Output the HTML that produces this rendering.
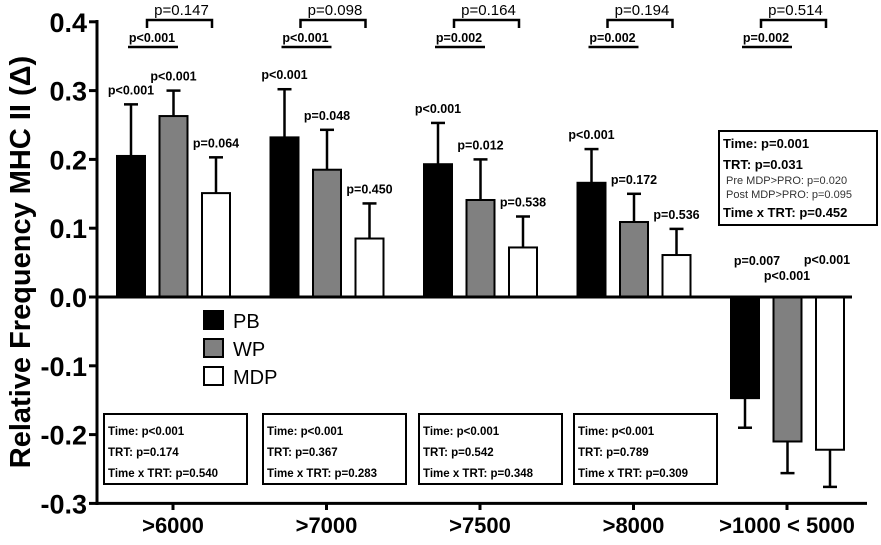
<!DOCTYPE html>
<html><head><meta charset="utf-8"><style>
body{margin:0;background:#fff;}
svg{display:block;font-family:"Liberation Sans",Arial,sans-serif;}
</style></head><body>
<svg id="c" width="881" height="545" viewBox="0 0 881 545"></svg>
<script>
const categories=[">6000",">7000",">7500",">8000",">1000 < 5000"];
const seriesNames=["PB","WP","MDP"];
const pbValues=[0.205,0.232,0.193,0.166,-0.147];
const wpValues=[0.263,0.185,0.141,0.109,-0.210];
const mdpValues=[0.151,0.085,0.072,0.061,-0.222];
const pbErr=[0.075,0.070,0.060,0.049,0.043];
const wpErr=[0.037,0.058,0.059,0.041,0.046];
const mdpErr=[0.052,0.051,0.045,0.038,0.054];
const pbP=["p<0.001","p<0.001","p<0.001","p<0.001","p=0.007"];
const wpP=["p<0.001","p=0.048","p=0.012","p=0.172","p<0.001"];
const mdpP=["p=0.064","p=0.450","p=0.538","p=0.536","p<0.001"];
const bracketP=["p=0.147","p=0.098","p=0.164","p=0.194","p=0.514"];
const underP=["p<0.001","p<0.001","p=0.002","p=0.002","p=0.002"];
const yTicks=[0.4,0.3,0.2,0.1,0.0,-0.1,-0.2,-0.3];
const yTickLabels=["0.4","0.3","0.2","0.1","0.0","-0.1","-0.2","-0.3"];
const boxTime=["Time: p<0.001","Time: p<0.001","Time: p<0.001","Time: p<0.001"];
const boxTrt=["TRT: p=0.174","TRT: p=0.367","TRT: p=0.542","TRT: p=0.789"];
const boxInt=["Time x TRT: p=0.540","Time x TRT: p=0.283","Time x TRT: p=0.348","Time x TRT: p=0.309"];

const svg=document.getElementById('c');
const NS='http://www.w3.org/2000/svg';
function y(v){return 297-688*v;}
function gx(i){return 117+153.5*i;}
function mk(t,a,txt){const e=document.createElementNS(NS,t);for(const k in a)e.setAttribute(k,a[k]);if(txt!==undefined)e.textContent=txt;svg.appendChild(e);return e;}

let e=mk('text',{x:0,y:0,transform:'translate(30,262) rotate(-90)','text-anchor':'middle','font-size':'29','font-weight':'bold'},'Relative Frequency MHC II (\u0394)');


yTicks.forEach((t,i)=>{
  let tk=mk('line',{x1:89,x2:97,y1:y(t),y2:y(t),stroke:'#000','stroke-width':3});
  
  let lb=mk('text',{x:87,y:y(t)+10,'text-anchor':'end','font-size':'27','font-weight':'bold'},yTickLabels[i]);
  
});

const cols=['#000','#808080','#fff'];
const vals=[pbValues,wpValues,mdpValues];
const errs=[pbErr,wpErr,mdpErr];
const ps=[pbP,wpP,mdpP];
const g5pos=[[757,265],[787,280],[827,264]];
categories.forEach((c,i)=>{
  const x0=gx(i);
  for(let s=0;s<3;s++){
    const bx=x0+s*42.5, w=28, v=vals[s][i], cx=bx+w/2;
    const top=Math.min(y(v),y(0)), h=Math.abs(y(v)-y(0));
    const ev=v>=0?v+errs[s][i]:v-errs[s][i];
    let el=mk('line',{x1:cx,x2:cx,y1:y(v),y2:y(ev),stroke:'#000','stroke-width':2.5});
    
    el=mk('line',{x1:cx-7,x2:cx+7,y1:y(ev),y2:y(ev),stroke:'#000','stroke-width':2.5});
    
    el=mk('rect',{x:bx,y:top,width:w,height:h,fill:cols[s],stroke:'#000','stroke-width':2});
    
    let px=cx,py=y(ev)-10;
    if(i===4){px=g5pos[s][0];py=g5pos[s][1];}
    el=mk('text',{x:px,y:py,'text-anchor':'middle','font-size':'12.5','font-weight':'bold'},ps[s][i]);
    
  }
  const b1=x0+30,b2=x0+95;
  let br=mk('path',{d:`M${b1},28 L${b1},20 L${b2},20 L${b2},28`,fill:'none',stroke:'#000','stroke-width':2.5});
  
  br=mk('text',{x:(b1+b2)/2+2,y:15,'text-anchor':'middle','font-size':'15'},bracketP[i]);
  
  br=mk('line',{x1:x0+11,x2:x0+61,y1:47,y2:47,stroke:'#000','stroke-width':2.5});
  
  br=mk('text',{x:x0+35,y:42,'text-anchor':'middle','font-size':'12.5','font-weight':'bold'},underP[i]);
  
  br=mk('text',{x:x0+56,y:533,'text-anchor':'middle','font-size':'22','font-weight':'bold'},c);
  
});

e=mk('line',{x1:97,x2:97,y1:20,y2:505,stroke:'#000','stroke-width':3});

e=mk('line',{x1:96,x2:852,y1:y(0),y2:y(0),stroke:'#000','stroke-width':3});

e=mk('line',{x1:96,x2:867,y1:y(-0.3),y2:y(-0.3),stroke:'#000','stroke-width':3});

categories.forEach((c,i)=>{
  let t=mk('line',{x1:gx(i)+56,x2:gx(i)+56,y1:503,y2:510,stroke:'#000','stroke-width':3});
  
});

const ly=[311,339,367];
seriesNames.forEach((n,s)=>{
  let r=mk('rect',{x:204,y:ly[s],width:19,height:18,fill:cols[s],stroke:'#000','stroke-width':2});
  
  r=mk('text',{x:233,y:ly[s]+17,'font-size':'20'},n);
  
});

const bxs=[104,263,419,574];
bxs.forEach((bx,i)=>{
  let r=mk('rect',{x:bx,y:414,width:143,height:70,fill:'#fff',stroke:'#000','stroke-width':2});
  
  [boxTime[i],boxTrt[i],boxInt[i]].forEach((t,k)=>{
    let tx=mk('text',{x:bx+4,y:435+k*21,'font-size':'11.5','font-weight':'bold'},t);
    
  });
});
e=mk('rect',{x:719,y:131,width:158,height:94,fill:'#fff',stroke:'#000','stroke-width':2});

[["Time: p=0.001",148,13,'bold','#000'],["TRT: p=0.031",169,13,'bold','#000'],["Pre MDP>PRO: p=0.020",184,11,'normal','#333'],["Post MDP>PRO: p=0.095",198,11,'normal','#333'],["Time x TRT: p=0.452",217,13,'bold','#000']].forEach(a=>{
  let tx=mk('text',{x:a[2]===11?726:723,y:a[1],'font-size':a[2],'font-weight':a[3],fill:a[4]},a[0]);
  
});
</script>
</body></html>
